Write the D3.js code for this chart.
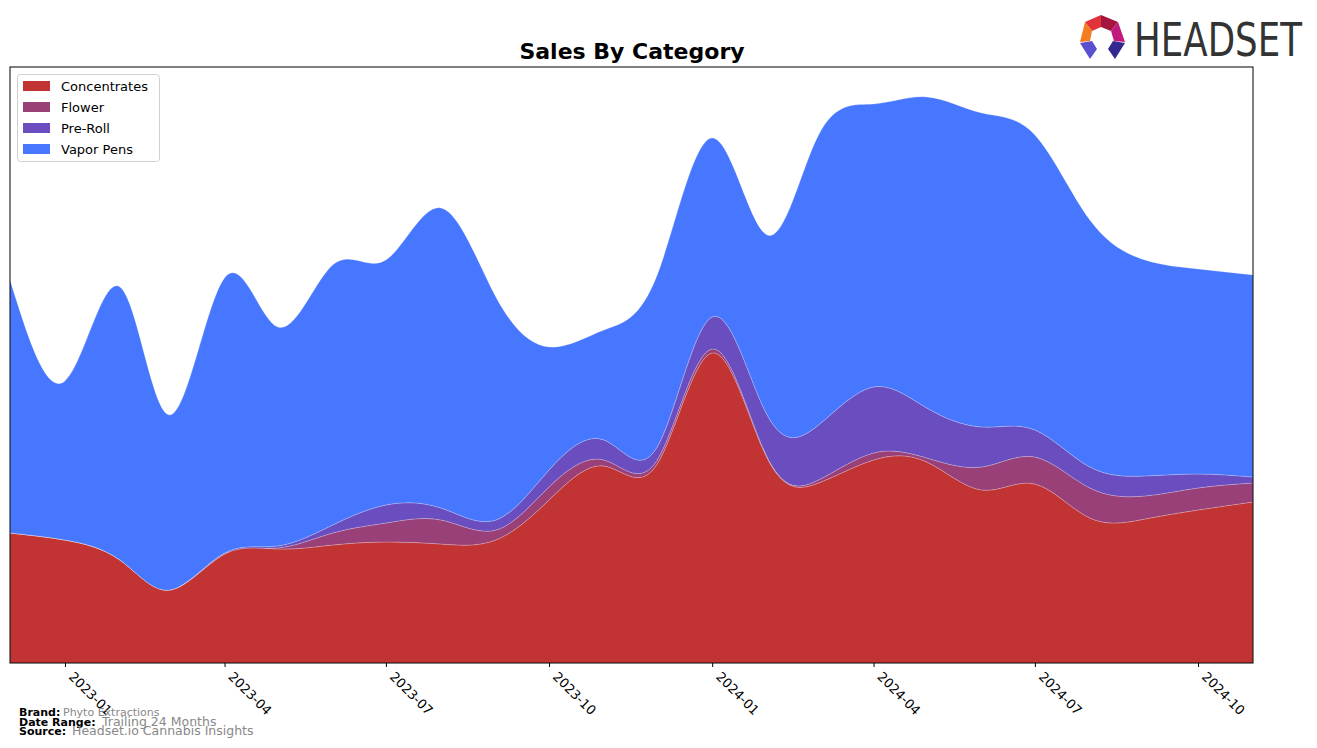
<!DOCTYPE html>
<html><head><meta charset="utf-8">
<script src="https://cdn.jsdelivr.net/npm/d3@7"></script>
<style>
body{margin:0;background:#fff;}
svg text{font-family:"DejaVu Sans",sans-serif;}
</style></head>
<body><svg id="c" width="1317" height="748"></svg>
<script>
const months = ["2022-12","2023-01","2023-02","2023-03","2023-04","2023-05","2023-06","2023-07","2023-08","2023-09","2023-10","2023-11","2023-12","2024-01","2024-02","2024-03","2024-04","2024-05","2024-06","2024-07","2024-08","2024-09","2024-10","2024-11"];
const categories = ["Concentrates","Flower","Pre-Roll","Vapor Pens"];
const concentrates = [130,123,103,73,109,114,118,121,119,123,163,197,199,310,205,180,203,201,173,179,145,144,153,161];
const flower       = [0,0,0,0,0,1,12,19,24,10,13,6,4,4,1,3,7,4,23,27,30,23,22,19];
const preRoll      = [0,0,0,0,1,2,8,18,12,10,17,20,13,32,42,55,66,50,40,27,21,20,14,6];
const vaporPens    = [253,159,273,175,275,219,260,245,300,223,123,110,172,179,180,290,283,311,314,295,247,216,205,202];
const tickMonths = ["2023-01","2023-04","2023-07","2023-10","2024-01","2024-04","2024-07","2024-10"];
const colors = ["#c23333","#984077","#6a4dbf","#4877ff"];

const parse = d3.timeParse("%Y-%m");
const svg = d3.select("#c");
const L=10,R=1253,T=67,B=663;
const x = d3.scaleTime().domain([parse(months[0]),parse(months[months.length-1])]).range([L,R]);
const y = d3.scaleLinear().domain([0,596]).range([B,T]);

const rows = months.map((m,i)=>({date:parse(m),"Concentrates":concentrates[i],"Flower":flower[i],"Pre-Roll":preRoll[i],"Vapor Pens":vaporPens[i]}));
const stack = d3.stack().keys(categories)(rows);
const area = d3.area().curve(d3.curveNatural).x(d=>x(d.data.date)).y0(d=>y(d[0])).y1(d=>y(d[1]));

svg.append("defs").append("clipPath").attr("id","clip").append("rect").attr("x",L).attr("y",T).attr("width",R-L).attr("height",B-T);
const g = svg.append("g").attr("clip-path","url(#clip)");
g.selectAll("path").data(stack).join("path")
 .attr("d",area).attr("fill",(d,i)=>colors[i])
 .attr("stroke","rgba(255,255,255,0.35)").attr("stroke-width",0.6);

// frame
svg.append("rect").attr("x",L).attr("y",T).attr("width",R-L).attr("height",B-T).attr("fill","none").attr("stroke","#000").attr("stroke-width",1);

// x axis
const ax = svg.append("g").attr("transform",`translate(0,${B})`)
 .call(d3.axisBottom(x).tickValues(tickMonths.map(parse)).tickFormat(d3.timeFormat("%Y-%m")).tickSize(4).tickPadding(2));
ax.select(".domain").remove();
ax.selectAll(".tick line").attr("stroke","#000");
ax.selectAll(".tick text").attr("font-size","13px").attr("fill","#000")
 .attr("text-anchor","start").attr("dy",null).attr("y",null)
 .attr("transform","translate(5,12) rotate(45)")
 .attr("dominant-baseline","middle");

// title
svg.append("text").attr("x",632).attr("y",59).attr("text-anchor","middle").attr("font-size","22px").attr("font-weight","bold").text("Sales By Category");

// legend
const lg = svg.append("g");
lg.append("rect").attr("x",17.5).attr("y",74.5).attr("width",142).attr("height",87).attr("rx",3).attr("fill","#fff").attr("fill-opacity",0.8).attr("stroke","#d0d0d0");
categories.forEach((c,i)=>{
  const yy = 81 + i*21;
  lg.append("rect").attr("x",23).attr("y",yy).attr("width",27).attr("height",10).attr("fill",colors[i]);
  lg.append("text").attr("x",61).attr("y",yy+10).attr("font-size","13px").attr("fill","#000").text(c);
});

// footer
const foot = [["Brand:","Phyto Extractions",63,716,11],["Date Range:","Trailing 24 Months",102,726,12.5],["Source:","Headset.io Cannabis Insights",72,735,12.5]];
foot.forEach(f=>{
  svg.append("text").attr("x",19).attr("y",f[3]).attr("font-size","11px").attr("font-weight","bold").attr("fill","#000").text(f[0]);
  svg.append("text").attr("x",f[2]).attr("y",f[3]).attr("font-size",f[4]+"px").attr("fill","#888").text(f[1]);
});

// logo
const lgo = svg.append("g");
const polys = [
 [[[1085,22],[1101,15],[1101,27],[1092,31]],"#e2323a"],
 [[[1101,15],[1118,22],[1111,31],[1101,27]],"#a5163f"],
 [[[1085,22],[1092,31],[1090,41],[1080,42]],"#f47c20"],
 [[[1118,22],[1125,42],[1114,41],[1111,31]],"#c01a7c"],
 [[[1080,43],[1092,41],[1097,49],[1090,59]],"#5a4fcf"],
 [[[1125,43],[1113,41],[1108,49],[1115,59]],"#33288f"]
];
polys.forEach(p=>lgo.append("polygon").attr("points",p[0].map(q=>q.join(",")).join(" ")).attr("fill",p[1]));
lgo.append("text").attr("x",1134).attr("y",56).attr("font-size","46px").attr("fill","#333")
 .attr("font-family","'Liberation Sans Narrow','Roboto Condensed','DejaVu Sans Condensed',sans-serif")
 .attr("textLength",168).attr("lengthAdjust","spacingAndGlyphs").text("HEADSET");
</script></body></html>
